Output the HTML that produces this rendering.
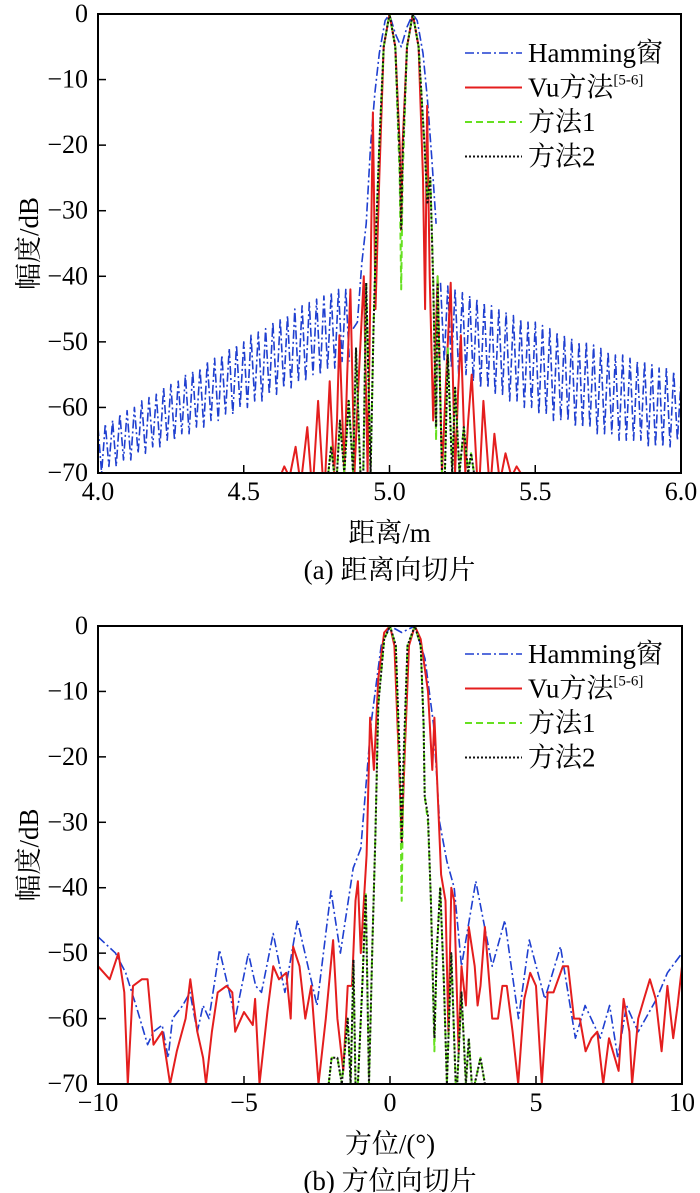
<!DOCTYPE html>
<html><head><meta charset="utf-8"><style>
html,body{margin:0;padding:0;background:#fff;}
svg{display:block;}
text{font-family:"Liberation Serif","Noto Serif CJK SC",serif;fill:#000;}
</style></head><body>
<svg id="fig" width="700" height="1193" viewBox="0 0 700 1193" xmlns="http://www.w3.org/2000/svg"></svg>
<script>
// ---------- Data: (a) range slice ----------
const topXTicks = [4.0, 4.5, 5.0, 5.5, 6.0];
const topXTickLabels = ["4.0", "4.5", "5.0", "5.5", "6.0"];
const yTicks = [0, -10, -20, -30, -40, -50, -60, -70];
const yTickLabels = ["0", "\u221210", "\u221220", "\u221230", "\u221240", "\u221250", "\u221260", "\u221270"];
const hamTopLeftStart = 4.0, hamTopStep = 0.0125;
const hamTopLeft = [-63,-70,-62.5,-69,-62,-69,-61,-68,-60.5,-68,-60,-67,-59,-67,-58.5,-66,-58,-66,-57,-65,-56.5,-65,-56,-64,-55,-64,-54.5,-63,-54,-63,-53,-62,-52.5,-62,-52,-61,-51,-61,-50.5,-60,-50,-60,-49,-59,-48.5,-59,-48,-58,-47,-58,-46.5,-57,-46,-57,-45,-56,-44.5,-56,-44,-55,-43.5,-55,-43,-54,-42.5,-54,-42,-53,-42,-53];
const hamTopMidX = [4.875,4.89,4.905,4.92,4.935,4.95,4.965,4.985,5.0,5.02,5.04,5.06,5.08,5.095,5.115,5.13,5.145,5.16];
const hamTopMidY = [-48,-47,-38,-32,-20,-12,-6,-1,0,-3,-5,-2,0,-1,-6,-13,-22,-32];
const hamTopRightStart = 5.175;
const hamTopRight = [-41,-53,-41.5,-54,-42,-55,-42.5,-55,-43,-56,-43.5,-57,-44,-57,-44.5,-58,-45,-58,-45.5,-59,-46,-59,-46.5,-60,-47,-60,-47,-61,-47.5,-61,-48,-62,-48.5,-62,-49,-62,-49.5,-63,-50,-63,-50,-63,-50.5,-64,-51,-64,-51.5,-64,-52,-65,-52,-65,-52.5,-65,-53,-65,-53,-66,-53.5,-66,-54,-66,-54,-66,-54.5,-65,-56];
const vuTopX = [4.63,4.639,4.65,4.66,4.678,4.69,4.70,4.718,4.73,4.74,4.755,4.77,4.78,4.795,4.81,4.82,4.828,4.845,4.855,4.866,4.88,4.895,4.912,4.925,4.935,4.943,4.952,4.965,4.98,5.0,5.02,5.035,5.04,5.045,5.06,5.08,5.1,5.115,5.122,5.129,5.138,5.15,5.165,5.18,5.195,5.21,5.225,5.235,5.245,5.26,5.27,5.282,5.3,5.31,5.322,5.34,5.35,5.36,5.375,5.385,5.398,5.415,5.425,5.436,5.45];
const vuTopY = [-70,-69,-70,-70,-66,-70,-70,-63,-70,-70,-59,-70,-70,-56,-70,-62,-49,-70,-55,-42,-70,-55,-40,-70,-40,-15,-45,-25,-5,0,-5,-20,-33,-20,-5,0,-5,-25,-45,-14,-40,-62,-40,-70,-55,-41,-70,-58,-49,-70,-62,-55,-70,-70,-59,-70,-70,-64,-70,-70,-67,-70,-70,-69,-70];
const m1TopX = [4.79,4.80,4.81,4.82,4.83,4.845,4.86,4.875,4.885,4.90,4.91,4.92,4.935,4.945,4.955,4.965,4.98,5.0,5.02,5.035,5.04,5.045,5.06,5.08,5.1,5.12,5.13,5.14,5.15,5.16,5.165,5.18,5.19,5.20,5.215,5.225,5.24,5.255,5.27,5.28,5.29,5.305,5.32];
const m1TopY = [-70,-66,-70,-70,-62,-70,-59,-70,-51,-70,-70,-41,-70,-48,-32,-20,-5,0,-5,-25,-42,-25,-5,0,-5,-20,-28,-25,-40,-65,-40,-70,-70,-51,-70,-57,-70,-63,-70,-67,-70,-70,-70];
const m2TopY = [-70,-66,-70,-70,-62,-70,-59,-70,-51,-70,-70,-41,-70,-48,-32,-20,-5,0,-5,-22,-33,-22,-5,0,-5,-20,-29,-25,-41,-63,-41,-70,-70,-52,-70,-57,-70,-63,-70,-67,-70,-70,-70];

// ---------- Data: (b) azimuth slice ----------
const botXTicks = [-10, -5, 0, 5, 10];
const botXTickLabels = ["\u221210", "\u22125", "0", "5", "10"];
const hamBotX = [-10,-9.4,-9.05,-8.7,-8.3,-8.1,-7.8,-7.6,-7.45,-7.1,-6.85,-6.6,-6.4,-6.2,-5.84,-5.5,-5.3,-4.85,-4.6,-4.4,-4.0,-3.6,-3.17,-2.5,-2.02,-1.7,-1.26,-1.0,-0.65,-0.3,0,0.4,0.85,1.2,1.49,1.7,1.95,2.2,2.45,2.94,3.5,3.93,4.4,4.77,5.3,5.84,6.35,6.68,7.2,7.52,7.8,8.1,8.5,9.13,9.5,10];
const hamBotY = [-47.5,-50,-53,-58,-64,-62,-61,-66,-60,-58,-56,-62,-58,-60,-49.5,-56,-60,-50,-55,-56,-47,-56,-45,-58,-40.5,-50,-37,-34,-15,-3,0,-1,0,-5,-15,-30,-36,-40,-52,-39,-52,-45,-60,-48,-57,-49,-63,-58,-63,-58,-66,-58,-62,-57,-53,-50];
const vuBotX = [-10,-9.6,-9.3,-9.1,-8.98,-8.8,-8.5,-8.3,-8.1,-7.8,-7.53,-7.3,-7.0,-6.84,-6.6,-6.4,-6.3,-6.1,-5.9,-5.6,-5.4,-5.3,-5.0,-4.7,-4.62,-4.47,-4.2,-4.0,-3.8,-3.55,-3.4,-3.32,-3.1,-2.9,-2.7,-2.45,-2.2,-1.95,-1.8,-1.6,-1.45,-1.3,-1.18,-1.1,-1.0,-0.8,-0.68,-0.55,-0.4,-0.2,0,0.15,0.3,0.4,0.5,0.65,0.85,1.05,1.3,1.45,1.52,1.6,1.75,1.9,2.0,2.1,2.2,2.35,2.45,2.6,2.7,2.9,3.0,3.1,3.25,3.5,3.7,3.85,4.0,4.2,4.39,4.6,4.8,5.0,5.2,5.4,5.6,5.92,6.1,6.3,6.5,6.7,6.9,7.1,7.3,7.5,7.7,7.83,8.0,8.2,8.29,8.5,8.7,8.9,9.1,9.3,9.5,9.7,9.85,10];
const vuBotY = [-52,-54,-50,-56,-70,-55,-54,-54,-64,-62,-70,-65,-60,-54,-62,-66,-70,-62,-56,-55,-56,-62,-59,-61,-57,-70,-59,-52,-54,-53,-60,-49,-52,-60,-55,-70,-60,-48,-60,-68,-55,-55,-42,-39,-50,-35,-14,-22,-8,-1,0,-3,-20,-33,-20,-3,0,-2,-10,-22,-14,-22,-38,-42,-62,-40,-42,-65,-52,-58,-46,-52,-58,-55,-46,-60,-60,-55,-55,-62,-70,-57,-53,-55,-70,-56,-56,-52,-52,-60,-60,-65,-63,-62,-70,-63,-66,-68,-57,-62,-70,-60,-57,-54,-57,-65,-55,-63,-58,-52];
const m1BotX = [-2.1,-2.0,-1.8,-1.65,-1.45,-1.35,-1.25,-1.18,-1.1,-0.95,-0.83,-0.72,-0.6,-0.5,-0.4,-0.2,0,0.2,0.35,0.4,0.45,0.6,0.85,1.05,1.15,1.19,1.3,1.4,1.52,1.6,1.72,1.85,1.95,2.1,2.25,2.3,2.45,2.6,2.7,2.8,2.9,3.1,3.25,3.4];
const m1BotY = [-70,-66,-66,-70,-60,-70,-52,-70,-70,-55,-41,-70,-48,-32,-12,-2,0,-3,-25,-42,-25,-3,0,-3,-15,-26,-30,-42,-65,-50,-40,-55,-70,-50,-70,-70,-56,-70,-63,-70,-70,-66,-70,-70];
const m2BotY = [-70,-66,-66,-70,-60,-70,-51,-70,-70,-55,-41,-70,-48,-32,-12,-2,0,-3,-22,-33,-22,-3,0,-3,-15,-26,-29,-42,-63,-50,-40,-55,-70,-50,-70,-70,-56,-70,-63,-70,-70,-66,-70,-70];

// ---------- Rendering ----------
const NS = "http://www.w3.org/2000/svg";
const svg = document.getElementById("fig");
function mk(tag, attrs, parent) {
  const e = document.createElementNS(NS, tag);
  for (const k in attrs) e.setAttribute(k, attrs[k]);
  (parent || svg).appendChild(e);
  return e;
}
function expand(start, step, vals) {
  const xs = [];
  for (let i = 0; i < vals.length; i++) xs.push(start + i * step);
  return xs;
}
const styles = {
  ham: {stroke: "#1f3fd0", dash: "9,3,2,3", w: 1.6},
  vu: {stroke: "#e41e1e", dash: "", w: 2},
  m1: {stroke: "#66e020", dash: "7,4", w: 2},
  m2: {stroke: "#111111", dash: "2,2", w: 2}
};

function drawPanel(p) {
  const g = mk("g", {});
  
  
  const X = v => p.x0 + (v - p.xmin) / (p.xmax - p.xmin) * (p.x1 - p.x0);
  const Y = v => p.y0 + (0 - v) / 70 * (p.y1 - p.y0);
  const clip = mk("clipPath", {id: p.name + "-clip"}, g);
  mk("rect", {x: p.x0, y: p.y0 - 1, width: p.x1 - p.x0, height: p.y1 - p.y0 + 2}, clip);
  const plot = mk("g", {"clip-path": "url(#" + p.name + "-clip)"}, g);
  
  
  p.series.forEach(s => {
    const st = styles[s.key];
    let d = "";
    for (let i = 0; i < s.xs.length; i++) d += (i ? "L" : "M") + X(s.xs[i]).toFixed(1) + "," + Y(s.ys[i]).toFixed(1);
    const path = mk("path", {d: d, fill: "none", stroke: st.stroke, "stroke-width": st.w, "stroke-dasharray": st.dash, "stroke-linejoin": "round"}, plot);
    
    
  });
  // frame
  const frame = mk("rect", {x: p.x0, y: p.y0, width: p.x1 - p.x0, height: p.y1 - p.y0, fill: "none", stroke: "#000", "stroke-width": 2}, g);
  
  
  // x ticks
  p.xt.forEach((v, i) => {
    const x = X(v);
    mk("line", {x1: x, x2: x, y1: p.y1, y2: p.y1 - 8, stroke: "#000", "stroke-width": 1.5}, g);
    const t = mk("text", {x: x, y: p.y1 + 27, "font-size": 26, "text-anchor": "middle"}, g);
    t.textContent = p.xtl[i];
    
    
  });
  // y ticks
  yTicks.forEach((v, i) => {
    const y = Y(v);
    mk("line", {x1: p.x0, x2: p.x0 + 8, y1: y, y2: y, stroke: "#000", "stroke-width": 1.5}, g);
    const t = mk("text", {x: p.x0 - 10, y: y + 8, "font-size": 26, "text-anchor": "end"}, g);
    t.textContent = yTickLabels[i];
    
    
  });
  // axis titles
  const ym = (p.y0 + p.y1) / 2;
  const yl = mk("text", {x: 0, y: 0, "font-size": 27, "text-anchor": "middle", transform: "translate(38," + ym + ") rotate(-90)"}, g);
  yl.textContent = "幅度/dB";
  
  
  const xl = mk("text", {x: (p.x0 + p.x1) / 2, y: p.y1 + 69, "font-size": 27, "text-anchor": "middle"}, g);
  xl.textContent = p.xlabel;
  
  
  const cap = mk("text", {x: (p.x0 + p.x1) / 2, y: p.y1 + 106, "font-size": 27, "text-anchor": "middle"}, g);
  cap.textContent = p.caption;
  
  
  // legend
  const leg = mk("g", {}, g);
  
  
  const labels = ["Hamming窗", "Vu方法", "方法1", "方法2"];
  ["ham", "vu", "m1", "m2"].forEach((k, i) => {
    const y = p.legY + i * 34.5;
    const st = styles[k];
    mk("line", {x1: 465, x2: 522, y1: y, y2: y, stroke: st.stroke, "stroke-width": st.w, "stroke-dasharray": st.dash}, leg);
    const t = mk("text", {x: 528, y: y + 9, "font-size": 27}, leg);
    t.textContent = labels[i];
    
    
    if (k === "vu") {
      const sup = mk("tspan", {"font-size": 15, dy: -12}, t);
      sup.textContent = "[5-6]";
    }
  });
}

drawPanel({
  name: "range-slice-chart", x0: 98, x1: 681, y0: 14, y1: 473, xmin: 4, xmax: 6,
  xt: topXTicks, xtl: topXTickLabels, xlabel: "距离/m", caption: "(a) 距离向切片", legY: 53,
  series: [
    {key: "ham", label: "hamming-line-left", xs: expand(hamTopLeftStart, hamTopStep, hamTopLeft), ys: hamTopLeft},
    {key: "ham", label: "hamming-line-main", xs: hamTopMidX, ys: hamTopMidY},
    {key: "ham", label: "hamming-line-right", xs: expand(hamTopRightStart, hamTopStep, hamTopRight), ys: hamTopRight},
    {key: "vu", label: "vu-method-line", xs: vuTopX, ys: vuTopY},
    {key: "m1", label: "method1-line", xs: m1TopX, ys: m1TopY},
    {key: "m2", label: "method2-line", xs: m1TopX, ys: m2TopY}
  ]
});
drawPanel({
  name: "azimuth-slice-chart", x0: 98, x1: 682, y0: 626, y1: 1084, xmin: -10, xmax: 10,
  xt: botXTicks, xtl: botXTickLabels, xlabel: "方位/(°)", caption: "(b) 方位向切片", legY: 654,
  series: [
    {key: "ham", label: "hamming-line", xs: hamBotX, ys: hamBotY},
    {key: "vu", label: "vu-method-line", xs: vuBotX, ys: vuBotY},
    {key: "m1", label: "method1-line", xs: m1BotX, ys: m1BotY},
    {key: "m2", label: "method2-line", xs: m1BotX, ys: m2BotY}
  ]
});
</script>
</body></html>
